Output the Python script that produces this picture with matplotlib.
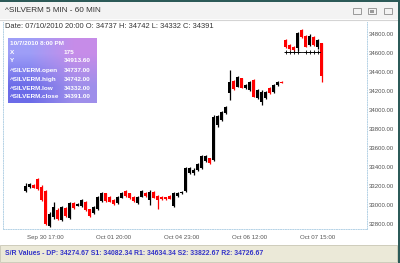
import numpy as np
import matplotlib
matplotlib.use('Agg')
import matplotlib.pyplot as plt
import matplotlib.transforms as mtrans
from matplotlib.patches import Rectangle

# %% Bar data (60 min bars)
opens = [33180, 33225, 33250, 33310, 33230, 33180, 32820, 32910, 32980, 32880,
         33005, 32900, 33055, 33030, 33030, 33070, 32990, 32950, 32990, 33075,
         33160, 33120, 33090, 33060, 33110, 33185, 33160, 33125, 33060, 33125,
         33160, 33090, 33170, 33135, 33125, 33115, 33130, 33025, 33130, 33160,
         33180, 33370, 33370, 33400, 33420, 33500, 33525, 33510, 33880, 33930,
         34000, 34210, 34337, 34278, 34365, 34260, 34244, 34348, 34156, 34122,
         34156, 34261, 34226, 34296, 34331, 34767, 34715, 34697, 34680, 34872,
         34815, 34715, 34800, 34690, 34737]
highs = [33265, 33270, 33255, 33320, 33245, 33190, 32960, 33065, 33000, 33030,
         33015, 33065, 33065, 33055, 33100, 33075, 32995, 33030, 33135, 33175,
         33165, 33130, 33095, 33130, 33170, 33190, 33165, 33130, 33135, 33195,
         33175, 33195, 33180, 33140, 33130, 33120, 33140, 33170, 33170, 33180,
         33440, 33430, 33420, 33480, 33565, 33560, 33530, 33980, 33985, 34020,
         34075, 34450, 34345, 34395, 34370, 34305, 34335, 34360, 34255, 34244,
         34235, 34270, 34305, 34340, 34335, 34784, 34725, 34705, 34854, 34880,
         34825, 34830, 34810, 34775, 34742]
lows = [33170, 33215, 33210, 33195, 33080, 32830, 32800, 32885, 32880, 32865,
        32910, 32890, 32995, 33025, 33020, 32975, 32910, 32940, 32980, 33070,
        33070, 33065, 33035, 33050, 33105, 33120, 33100, 33065, 33050, 33115,
        33125, 33040, 33105, 32990, 33090, 33090, 33095, 33015, 33125, 33155,
        33170, 33360, 33350, 33390, 33410, 33490, 33470, 33500, 33860, 33920,
        33990, 34140, 34245, 34270, 34260, 34250, 34235, 34165, 34145, 34086,
        34145, 34200, 34215, 34290, 34315, 34680, 34665, 34655, 34655, 34790,
        34690, 34705, 34705, 34670, 34332]
closes = [33240, 33255, 33215, 33205, 33090, 32840, 32940, 33020, 32890, 33020,
          32920, 33055, 33005, 33045, 33090, 32985, 32920, 33020, 33125, 33160,
          33075, 33070, 33045, 33125, 33160, 33130, 33110, 33075, 33125, 33180,
          33130, 33170, 33110, 33090, 33095, 33100, 33100, 33160, 33160, 33170,
          33420, 33420, 33400, 33470, 33550, 33550, 33480, 33965, 33970, 34010,
          34065, 34330, 34254, 34383, 34268, 34295, 34324, 34174, 34244, 34226,
          34226, 34209, 34296, 34331, 34320, 34697, 34673, 34662, 34840, 34802,
          34697, 34815, 34715, 34765, 34391]

tick_idx = [5, 22, 39, 56, 73]
tick_lbl = ['Sep 30 17:00', 'Oct 01 20:00', 'Oct 04 23:00', 'Oct 06 12:00', 'Oct 07 15:00']
y_ticks = [32800, 33000, 33200, 33400, 33600, 33800, 34000, 34200, 34400, 34600, 34800]

# horizontal marker line in the last session
mark_level = 34640
mark_idx = [65, 66, 67, 68, 70, 71, 72, 73]

tip_names = ['X', 'Y', '^SILVERM.open', '^SILVERM.high', '^SILVERM.low', '^SILVERM.close']
tip_vals = ['175', '34913.60', '34737.00', '34742.00', '34332.00', '34391.00']

W, H = 400, 263
FONT = ['Liberation Sans', 'DejaVu Sans']
plt.rcParams['font.family'] = FONT

fig = plt.figure(figsize=(W/100, H/100), dpi=100)
fig.patch.set_facecolor('white')

def box(x0, y0, x1, y1):
    # pixel box (top-left origin) -> figure fraction rect
    return [x0/W, 1 - y1/H, (x1 - x0)/W, (y1 - y0)/H]

# %% window chrome
fig.patches.append(Rectangle((0, 1 - 19/H), 1, 19/H, transform=fig.transFigure,
                             facecolor='#f3f3f3', edgecolor='none', zorder=0))
fig.lines.append(plt.Line2D([0, 1], [1 - 19.5/H]*2, transform=fig.transFigure,
                            color='#d4d4d4', lw=0.8))
fig.patches.append(Rectangle((0, 1 - 1.5/H), 1, 1.5/H, transform=fig.transFigure,
                             facecolor='#2c5a58', edgecolor='none', zorder=5))
fig.patches.append(Rectangle((397.5/W, 0), 2.5/W, 1, transform=fig.transFigure,
                             facecolor='#2c5a58', edgecolor='none', zorder=5))
fig.text(5/W, 1 - 11/H, '^SILVERM 5 MIN - 60 MIN', fontsize=5.9, color='#333333',
         va='center', ha='left')
for cx in [357, 372, 388]:
    fig.patches.append(Rectangle(((cx - 4)/W, 1 - 14/H), 8/W, 6/H, transform=fig.transFigure,
                                 facecolor='none', edgecolor='#9a9a9a', lw=0.7))
fig.patches.append(Rectangle((370/W, 1 - 12.5/H), 4/W, 3/H, transform=fig.transFigure,
                             facecolor='#9a9a9a', edgecolor='none'))

fig.text(5/W, 1 - 27/H, 'Date: 07/10/2010 20:00 O: 34737 H: 34742 L: 34332 C: 34391',
         fontsize=5.4, color='#333333', va='center', ha='left')

# status bar
fig.patches.append(Rectangle((0, 1/H), 397/W, 17/H, transform=fig.transFigure,
                             facecolor='#ebe9d8', edgecolor='#c8c6b4', lw=0.6, zorder=0))
fig.text(5/W, 1 - 253.5/H,
         'S/R Values - DP: 34274.67 S1: 34082.34 R1: 34634.34 S2: 33822.67 R2: 34726.67',
         fontsize=4.95, color='#3434c8', fontweight='bold', va='center', ha='left')

# %% price axes
ax = fig.add_axes(box(3, 22, 367, 229))
x = np.arange(len(opens))
o = np.array(opens); c = np.array(closes)
up = c >= o
cols = np.where(up, 'black', '#ff0000')
ax.vlines(x, lows, highs, colors=cols, lw=0.9)
ax.bar(x, np.maximum(np.abs(c - o), 10), bottom=np.minimum(o, c), width=0.66,
       color=cols, linewidth=0)

ax.plot([64.8, 73.6], [mark_level, mark_level], color='black', lw=0.6)
ax.plot(mark_idx, [mark_level]*len(mark_idx), ls='none', marker='+', ms=2.6,
        mew=0.6, color='black')

ax.set_xlim(-5.675, 85.3)
ax.set_ylim(32784, 34957.5)
ax.set_facecolor('white')
ax.spines['top'].set_visible(False)
for s in ['left', 'right', 'bottom']:
    ax.spines[s].set_color('#b4d2e6')
    ax.spines[s].set_linestyle((0, (1, 1.5)))
    ax.spines[s].set_linewidth(0.7)

ax.set_xticks(tick_idx)
ax.set_xticklabels(tick_lbl, fontsize=4.4, color='#555555')
ax.tick_params(axis='x', length=0, pad=4.5)
ax.yaxis.tick_right()
ax.set_yticks(y_ticks)
ax.set_yticklabels(['%.2f' % v for v in y_ticks], fontsize=4.3, color='#505050')
ax.tick_params(axis='y', length=0, pad=1.2)
up_shift = mtrans.ScaledTranslation(0, 3/100, fig.dpi_scale_trans)
for lbl in ax.get_yticklabels():
    lbl.set_transform(lbl.get_transform() + up_shift)

# %% tooltip box
tax = fig.add_axes(box(8, 38, 97, 103.5))
grad = np.array([[[0.62, 0.62, 0.97], [0.78, 0.55, 0.91]],
                 [[0.42, 0.42, 0.91], [0.62, 0.56, 0.92]]])
tax.imshow(grad, aspect='auto', interpolation='bilinear', extent=[0, 1, 0, 1])
tax.set_xlim(0, 1); tax.set_ylim(0, 1)
tax.axis('off')
line_y = [43.3, 52.3, 60.7, 70, 79.3, 88, 96.7]
fs_tip = 4.6
fig.text(10/W, 1 - line_y[0]/H, '10/7/2010 8:00 PM', fontsize=fs_tip, color='white',
         fontweight='bold', va='center', ha='left')
for ly, nm, vv in zip(line_y[1:], tip_names, tip_vals):
    fig.text(10/W, 1 - ly/H, nm, fontsize=fs_tip, color='white', fontweight='bold',
             va='center', ha='left')
    fig.text(63.5/W, 1 - ly/H, vv, fontsize=fs_tip, color='white', fontweight='bold',
             va='center', ha='left')

fig.savefig('out.png', dpi=100)
